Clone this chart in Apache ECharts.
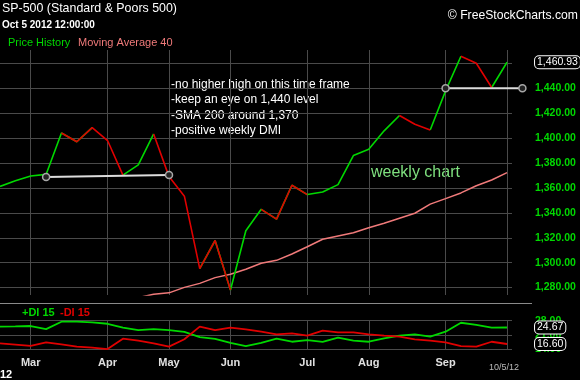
<!DOCTYPE html>
<html><head><meta charset="utf-8">
<script src="https://cdn.jsdelivr.net/npm/echarts@6/dist/echarts.min.js"></script>
<style>html,body{margin:0;padding:0;background:#000;}#c{width:580px;height:380px;}</style>
</head><body><div id="c"></div>
<script>
// ---- data ----
const weeks = ['2012-02-17','2012-02-24','2012-03-02','2012-03-09','2012-03-16','2012-03-23','2012-03-30',
  '2012-04-05','2012-04-13','2012-04-20','2012-04-27','2012-05-04','2012-05-11','2012-05-18','2012-05-25',
  '2012-06-01','2012-06-08','2012-06-15','2012-06-22','2012-06-29','2012-07-06','2012-07-13','2012-07-20',
  '2012-07-27','2012-08-03','2012-08-10','2012-08-17','2012-08-24','2012-08-31','2012-09-07','2012-09-14',
  '2012-09-21','2012-09-28','2012-10-05'];
const futureWeeks = ['2012-10-12'];
const price = [1361.23,1365.74,1369.63,1370.87,1404.17,1397.11,1408.47,1398.08,1370.26,1378.53,1403.36,
  1369.10,1353.39,1295.22,1317.82,1278.04,1325.66,1342.84,1335.02,1362.16,1354.68,1356.78,1362.66,1385.97,
  1390.99,1405.87,1418.16,1411.13,1406.58,1437.92,1465.77,1460.15,1440.67,1460.93];
const ma40 = [null,null,null,null,null,null,null,null,null,1272,1274.6,1275.8,1280.2,1283.4,1288,1290.7,
  1294.7,1299.5,1301.9,1307,1312.8,1318.8,1321.4,1324,1328,1331.6,1335.7,1339.7,1347,1351.4,1356,1361.8,
  1366.4,1372.3];
const plusDI = [25.1,25.2,25.4,23.9,27.5,27.5,27.2,26.5,24.6,23.4,23.9,23.4,22.5,20.0,19.1,17.2,15.6,17.2,
  19.2,17.7,18.5,17.6,19.7,18.2,17.7,19.4,20.7,21.3,20.2,22.6,27.0,26.0,24.6,24.67];
const minusDI = [16.9,16.3,15.7,17.4,16.4,15.3,14.8,14.1,19.2,18.2,16.9,15.3,18.9,25.1,23.4,24.6,23.8,22.7,
  21.3,21.8,20.7,23.1,22.3,22.3,21.3,20.7,20.2,18.9,18.2,17.4,15.6,15.3,17.7,16.6];
const priceTicks = [1280,1300,1320,1340,1360,1380,1400,1420,1440,1460];
const dmiTicks = [14,21,28];
const trendLine1 = [{week:'2012-03-09', value:1368.8},{week:'2012-05-04', value:1370.4}];
const trendLine2 = [{week:'2012-09-07', value:1440},{week:'2012-10-12', value:1440}];
const notes = ['-no higher high on this time frame','-keep an eye on 1,440 level','-SMA 200 around 1,370','-positive weekly DMI'];
const monthNames = ['Jan','Feb','Mar','Apr','May','Jun','Jul','Aug','Sep','Oct','Nov','Dec'];

// ---- derived ----
const cats = weeks.concat(futureWeeks);
const monthOf = s => +s.slice(5,7);
const isMonthStart = i => i > 0 && i < weeks.length && monthOf(cats[i]) !== monthOf(cats[i-1]);
const upSeg = i => price[i+1] >= price[i];
const upData = price.map((v,i) => ((i>0 && upSeg(i-1)) || (i<price.length-1 && upSeg(i))) ? v : null);
const downData = price.map((v,i) => ((i>0 && !upSeg(i-1)) || (i<price.length-1 && !upSeg(i))) ? v : null);
const trendArr = pts => cats.map(c => { const p = pts.find(q => q.week === c); return p ? p.value : null; });

const FONT = 'Liberation Sans, Arial, sans-serif';
const GRID_C = '#4a4a4a';
const GREEN = '#00d800', RED = '#e00000', MA_C = '#f07a7a';
const fmtPrice = v => v.toLocaleString('en-US',{minimumFractionDigits:2, maximumFractionDigits:2});

const boxLabel = (fmt) => ({
  show: true, formatter: p => fmt(p.value), distance: 28, color: '#fff', fontSize: 10.5, fontFamily: FONT,
  backgroundColor: '#000', borderColor: '#fff', borderWidth: 1, borderRadius: 4, padding: [1,2,0,2]
});

const catAxis = (gi, showLabels) => ({
  type: 'category', gridIndex: gi, data: cats, boundaryGap: false,
  axisLine: {show: false}, axisTick: {show: false},
  axisLabel: {show: showLabels, interval: (i) => isMonthStart(i) && i < weeks.length - 1,
    formatter: (v) => monthNames[monthOf(v)-1], color: '#e0e0e0', fontSize: 11, fontWeight: 'bold',
    fontFamily: FONT, margin: 8},
  splitLine: {show: true, interval: (i) => isMonthStart(i), lineStyle: {color: GRID_C, width: 1}}
});
const hiddenX = (gi) => ({type: 'value', gridIndex: gi, min: 0, max: 1, show: false});
const trendSeries = (name, pts) => ({
  name, type: 'line', xAxisIndex: 0, yAxisIndex: 0, data: trendArr(pts), connectNulls: true,
  symbol: 'circle', symbolSize: 7, clip: false, silent: true, z: 4,
  itemStyle: {color: '#222', borderColor: '#a8a8a8', borderWidth: 1.5},
  lineStyle: {color: '#dcdcdc', width: 2}
});

const chart = echarts.init(document.getElementById('c'), null, {renderer: 'canvas'});
chart.setOption({
  backgroundColor: '#000',
  animation: false,
  grid: [
    {left: 0, right: 57.6, top: 50, bottom: 85},             // price data
    {left: 0, right: 68, top: 63.4, bottom: 92.4},           // price grid lines / labels
    {left: 0, right: 57.6, top: 320.7, height: 28.6},        // DMI data
    {left: 0, right: 68, top: 320.7, height: 28.6}           // DMI grid lines / labels
  ],
  xAxis: [catAxis(0, false), hiddenX(1), catAxis(2, true), hiddenX(3)],
  yAxis: [
    {type: 'value', gridIndex: 0, min: 1274.06, max: 1470.75, show: false},
    {type: 'value', gridIndex: 1, min: priceTicks[0], max: priceTicks[priceTicks.length-1], interval: 20,
      position: 'right', axisLine: {show: false}, axisTick: {show: false},
      splitLine: {lineStyle: {color: GRID_C}},
      axisLabel: {margin: 23, color: GREEN, fontSize: 10.5, fontWeight: 'bold', fontFamily: FONT,
        showMaxLabel: false, formatter: fmtPrice}},
    {type: 'value', gridIndex: 2, min: dmiTicks[0], max: dmiTicks[dmiTicks.length-1], show: false},
    {type: 'value', gridIndex: 3, min: dmiTicks[0], max: dmiTicks[dmiTicks.length-1], interval: 7,
      position: 'right', axisLine: {show: false}, axisTick: {show: false},
      splitLine: {lineStyle: {color: GRID_C}},
      axisLabel: {margin: 23, color: GREEN, fontSize: 10.5, fontWeight: 'bold', fontFamily: FONT,
        formatter: v => v.toFixed(2)}}
  ],
  series: [
    {name: 'Moving Average 40', type: 'line', xAxisIndex: 0, yAxisIndex: 0, data: ma40, symbol: 'none',
      lineStyle: {color: MA_C, width: 1.5}, silent: true},
    {name: 'Price up', type: 'line', xAxisIndex: 0, yAxisIndex: 0, data: upData, symbol: 'none',
      lineStyle: {color: GREEN, width: 1.6}, silent: true},
    {name: 'Price down', type: 'line', xAxisIndex: 0, yAxisIndex: 0, data: downData, symbol: 'none',
      lineStyle: {color: RED, width: 1.6}, silent: true},
    {name: 'Price History', type: 'line', xAxisIndex: 0, yAxisIndex: 0, data: price, symbol: 'none',
      lineStyle: {opacity: 0, width: 0}, silent: true, z: 5, endLabel: boxLabel(fmtPrice)},
    trendSeries('trend1', trendLine1),
    trendSeries('trend2', trendLine2),
    {name: '+DI 15', type: 'line', xAxisIndex: 2, yAxisIndex: 2, data: plusDI, symbol: 'none', clip: false,
      lineStyle: {color: GREEN, width: 1.8}, silent: true, z: 5, endLabel: boxLabel(v => v.toFixed(2))},
    {name: '-DI 15', type: 'line', xAxisIndex: 2, yAxisIndex: 2, data: minusDI, symbol: 'none', clip: false,
      lineStyle: {color: RED, width: 1.8}, silent: true, z: 5, endLabel: boxLabel(v => v.toFixed(2))}
  ],
  graphic: [
    {type: 'text', left: 2, top: 3, style: {text: 'SP-500 (Standard & Poors 500)', fill: '#fff', font: '12.4px ' + FONT}},
    {type: 'text', left: 2, top: 20, style: {text: 'Oct 5 2012 12:00:00', fill: '#fff', font: 'bold 10px ' + FONT}},
    {type: 'text', left: 8, top: 37, style: {text: 'Price History', fill: GREEN, font: '11px ' + FONT}},
    {type: 'text', left: 78, top: 37, style: {text: 'Moving Average 40', fill: MA_C, font: '11px ' + FONT}},
    {type: 'text', right: 2, top: 10, style: {text: '\u00a9 FreeStockCharts.com', fill: '#fff', font: '12.2px ' + FONT}},
    {type: 'text', left: 171, top: 77, style: {text: notes.join('\n'), fill: '#fff', font: '12px ' + FONT, lineHeight: 15.4}},
    {type: 'text', left: 371, top: 165, style: {text: 'weekly chart', fill: '#7fe07f', font: '16px ' + FONT}},
    {type: 'line', shape: {x1: 0, y1: 303.5, x2: 532, y2: 303.5}, style: {stroke: '#8a8a8a', lineWidth: 1}},
    {type: 'text', left: 22, top: 307, style: {text: '+DI 15', fill: GREEN, font: 'bold 11px ' + FONT}},
    {type: 'text', left: 60, top: 307, style: {text: '-DI 15', fill: RED, font: 'bold 11px ' + FONT}},
    {type: 'text', left: 0, top: 369, style: {text: '12', fill: '#fff', font: 'bold 11px ' + FONT}},
    {type: 'text', left: 489, top: 363, style: {text: '10/5/12', fill: '#bbb', font: '9px ' + FONT}}
  ]
});
</script></body></html>
